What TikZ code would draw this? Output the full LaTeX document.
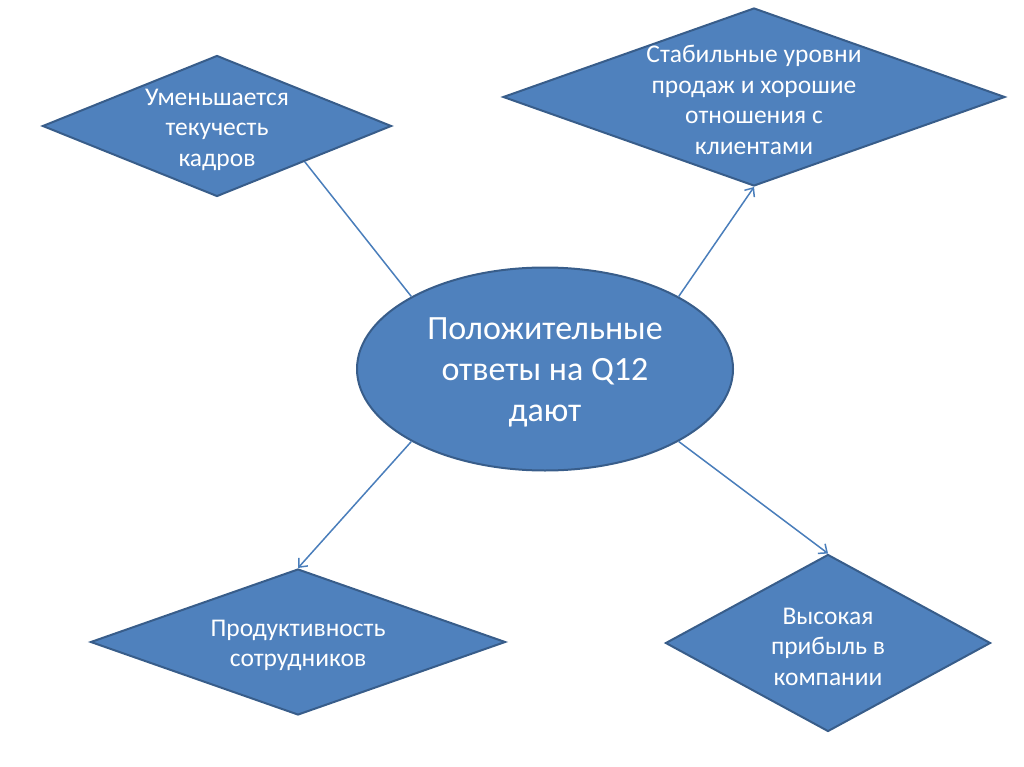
\documentclass[tikz,border=0pt]{standalone}
\usepackage{fontspec}
\setmainfont{Carlito}
\usetikzlibrary{shapes.geometric,arrows.meta}
\definecolor{boxblue}{HTML}{4F81BD}
\definecolor{edgeblue}{HTML}{385D8A}
\definecolor{lineblue}{HTML}{4A7EBB}
\tikzstyle{rhomb} = [diamond,draw=edgeblue,line width=2pt,fill=boxblue,inner sep=0pt]

\begin{document}
\begin{tikzpicture}
		[x=1pt,y=-1pt,
		oval/.style={
		ellipse,draw=edgeblue,line width=2pt,fill=boxblue,inner sep=0pt,
		minimum width=376pt,minimum height=203pt},
		txt/.style={text=white,align=center,yshift=-3.5pt,font=\fontsize{25.5}{30.5}\selectfont},
		bigtxt/.style={txt,font=\fontsize{34}{41}\selectfont},
		link/.style={draw=lineblue,line width=1.5pt},
		arr/.style={link,-{Straight Barb[length=7pt,width=12pt]}}
		]
		\useasboundingbox (0,0) rectangle (1024,767);
		\node[oval,label={[bigtxt]center:Положительные\\ответы на Q12\\дают}](answers) at (545,369) {};
		\node[rhomb,minimum width=349pt,minimum height=141pt,
		label={[txt]center:Уменьшается\\текучесть\\кадров}](turnover) at (217,126) {};
		\node[rhomb,minimum width=502pt,minimum height=178pt,
		label={[txt,yshift=0.5pt]center:Стабильные уровни\\продаж и хорошие\\отношения с\\клиентами}](sales) at (754,97) {};
		\node[rhomb,minimum width=415pt,minimum height=146pt,
		label={[txt]center:Продуктивность\\сотрудников}](staff) at (298,642) {};
		\node[rhomb,minimum width=325pt,minimum height=177pt,
		label={[txt]center:Высокая\\прибыль в\\компании}](profit) at (828,643) {};
		\draw[link] (answers.north west) -- (turnover.south east);
		\draw[arr] (answers.north east) -- (sales.south);
		\draw[arr] (answers.south west) -- (staff.north);
		\draw[arr] (answers.south east) -- (profit.north);
		\end{tikzpicture}
\end{document}
